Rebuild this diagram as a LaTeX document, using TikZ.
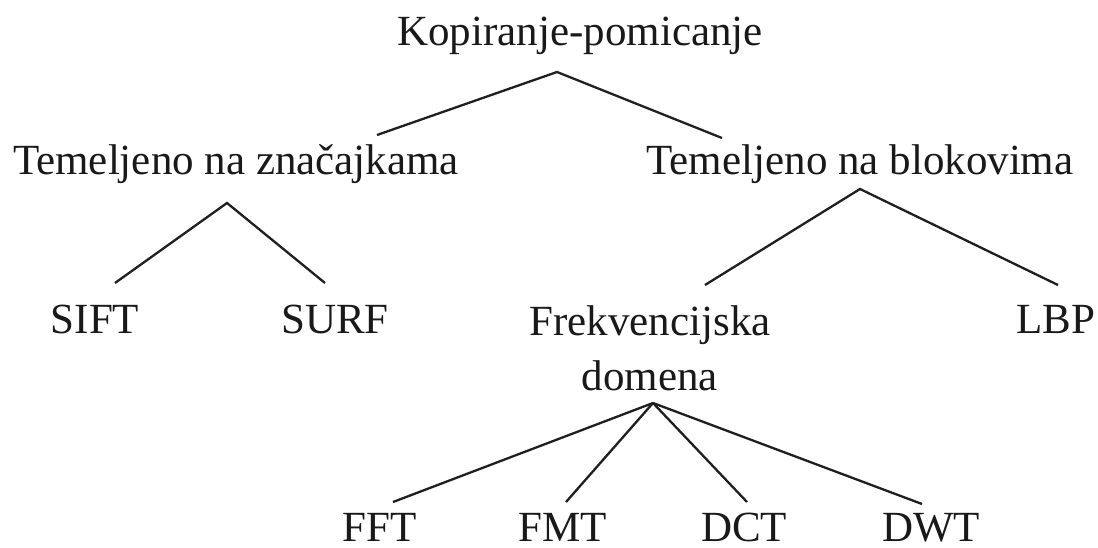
\documentclass[tikz,border=0pt]{standalone}
\usepackage{fontspec}
\setmainfont{Liberation Serif}
\begin{document}
\begin{tikzpicture}[x=1pt,y=-1pt,
  lbl/.style={inner sep=0pt,outer sep=0pt,anchor=base,font=\fontsize{43}{55}\selectfont,text=black!90},
  edge/.style={line width=2.3pt,draw=black!88}]
\useasboundingbox[fill=white] (0,0) rectangle (1098,548);
% labels
\node[lbl] (kop) at (580,46) {Kopiranje-pomicanje};
\node[lbl] (tz) at (236,175) {Temeljeno na značajkama};
\node[lbl] (tb) at (860,175) {Temeljeno na blokovima};
\node[lbl] (sift) at (95,333) {SIFT};
\node[lbl] (surf) at (335,333) {SURF};
\node[lbl] (frek) at (650,335) {Frekvencijska};
\node[lbl] (dom) at (650,390) {domena};
\node[lbl] (lbp) at (1056,333) {LBP};
\node[lbl] (fft) at (380,541) {FFT};
\node[lbl] (fmt) at (563,541) {FMT};
\node[lbl] (dct) at (744,541) {DCT};
\node[lbl] (dwt) at (931,541) {DWT};
% connector end points
\coordinate (kop-a) at (557,72);
\coordinate (tz-t) at (377,135);
\coordinate (tb-t) at (722,138);
\coordinate (tz-a) at (227,203);
\coordinate (sift-t) at (115,283);
\coordinate (surf-t) at (325,283);
\coordinate (tb-a) at (860,189);
\coordinate (frek-t) at (705,285);
\coordinate (lbp-t) at (1058,285);
\coordinate (dom-a) at (653,403);
\coordinate (fft-t) at (393,502);
\coordinate (fmt-t) at (566,502);
\coordinate (dct-t) at (747,502);
\coordinate (dwt-t) at (922,504);
% connectors
\draw[edge] (tz-t) -- (kop-a) -- (tb-t);
\draw[edge] (sift-t) -- (tz-a) -- (surf-t);
\draw[edge] (frek-t) -- (tb-a) -- (lbp-t);
\draw[edge] (dom-a) -- (fft-t);
\draw[edge] (dom-a) -- (fmt-t);
\draw[edge] (dom-a) -- (dct-t);
\draw[edge] (dom-a) -- (dwt-t);
\end{tikzpicture}
\end{document}
